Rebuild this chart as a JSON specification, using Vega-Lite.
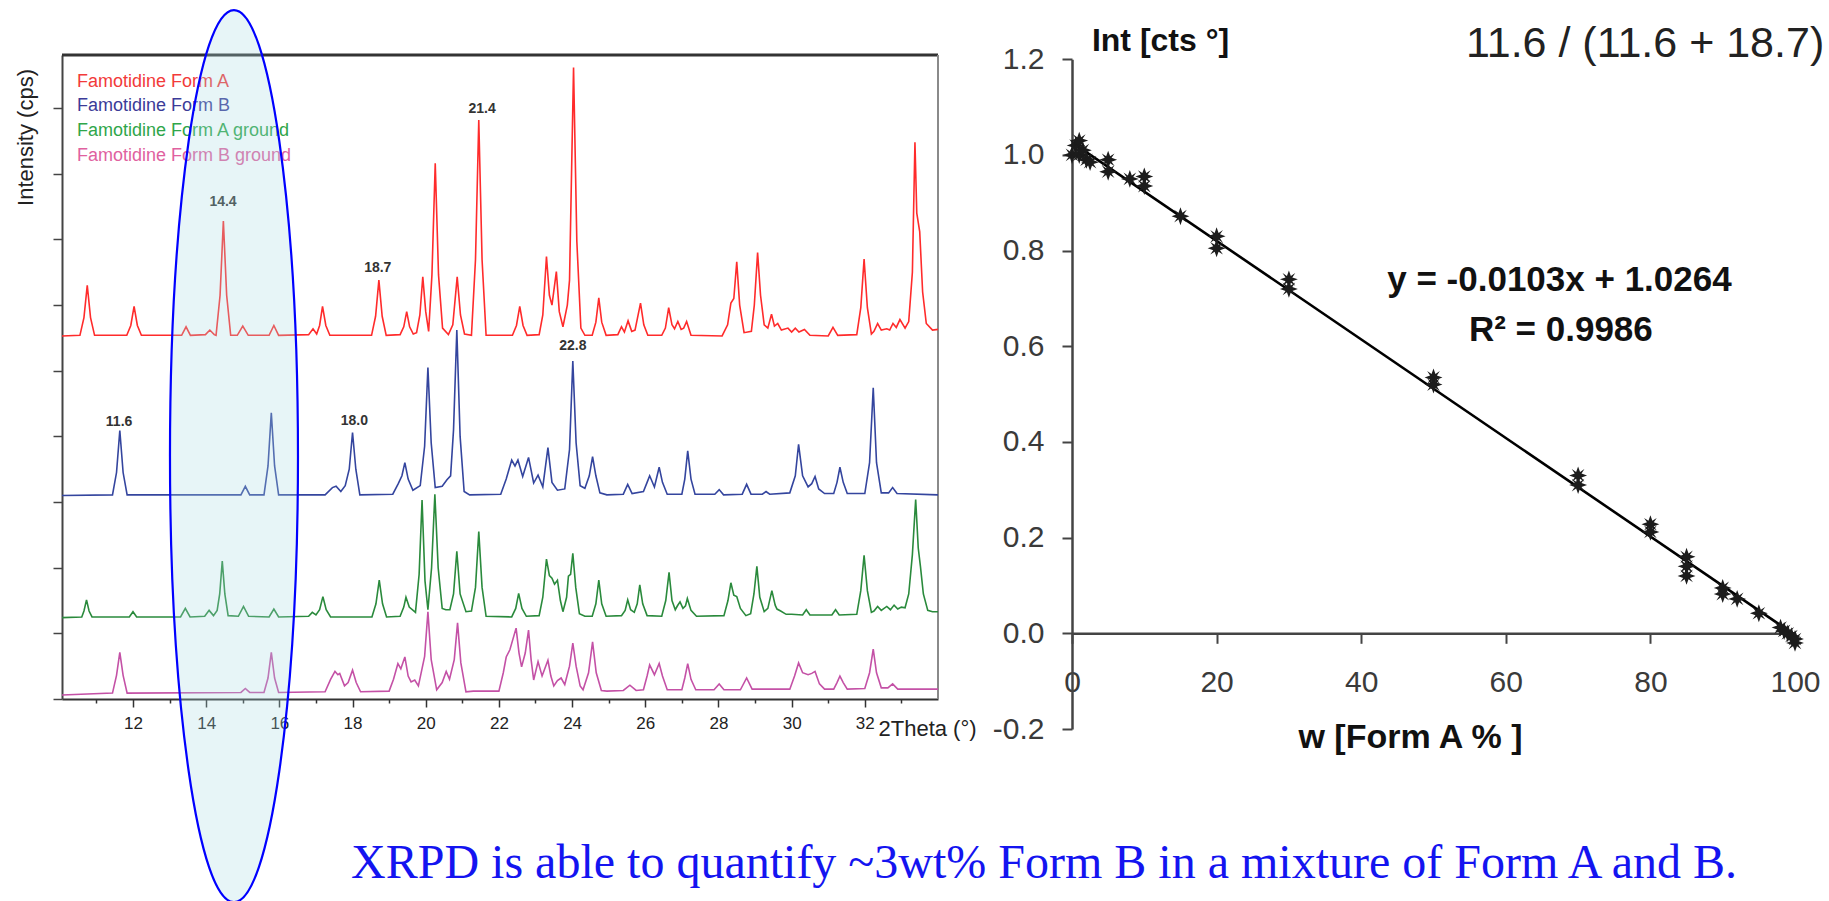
{
  "$schema": "https://vega.github.io/schema/vega-lite/v6.json",
  "width": 1829,
  "height": 901,
  "autosize": {"type": "none"},
  "padding": 0,
  "background": "white",
  "config": {"view": {"stroke": null}, "font": "Liberation Sans"},
  "datasets": {
    "formA": [
      {"theta":10.06,"cps":55.3},{"theta":10.55,"cps":55.4},{"theta":10.66,"cps":58.1},{"theta":10.75,"cps":63.0},{"theta":10.84,"cps":58.1},{"theta":10.95,"cps":55.4},
      {"theta":11.83,"cps":55.4},{"theta":11.94,"cps":56.9},{"theta":12.03,"cps":59.8},{"theta":12.12,"cps":56.9},{"theta":12.23,"cps":55.4},
      {"theta":13.33,"cps":55.4},{"theta":13.45,"cps":56.7},{"theta":13.57,"cps":55.4},
      {"theta":13.98,"cps":55.5},{"theta":14.1,"cps":56.2},{"theta":14.22,"cps":55.5},
      {"theta":14.27,"cps":55.4},{"theta":14.38,"cps":61.5},{"theta":14.47,"cps":72.8},{"theta":14.56,"cps":61.5},{"theta":14.67,"cps":55.4},
      {"theta":14.85,"cps":55.4},{"theta":15.0,"cps":56.8},{"theta":15.15,"cps":55.4},
      {"theta":15.72,"cps":55.4},{"theta":15.85,"cps":56.9},{"theta":15.98,"cps":55.4},
      {"theta":16.8,"cps":55.5},{"theta":16.92,"cps":56.4},{"theta":17.02,"cps":55.6},{"theta":17.1,"cps":56.9},{"theta":17.18,"cps":59.8},{"theta":17.27,"cps":56.9},{"theta":17.38,"cps":55.4},
      {"theta":18.52,"cps":55.4},{"theta":18.63,"cps":58.3},{"theta":18.72,"cps":63.8},{"theta":18.81,"cps":58.3},{"theta":18.92,"cps":55.4},
      {"theta":19.3,"cps":55.5},{"theta":19.4,"cps":56.7},{"theta":19.48,"cps":59.0},{"theta":19.56,"cps":56.7},{"theta":19.66,"cps":55.6},
      {"theta":19.75,"cps":55.8},{"theta":19.84,"cps":58.5},{"theta":19.92,"cps":64.3},{"theta":20.0,"cps":59.0},{"theta":20.08,"cps":56.0},
      {"theta":20.17,"cps":64.6},{"theta":20.26,"cps":81.6},{"theta":20.35,"cps":64.6},{"theta":20.46,"cps":56.5},{"theta":20.62,"cps":55.5},
      {"theta":20.74,"cps":57.0},{"theta":20.86,"cps":64.3},{"theta":20.95,"cps":58.5},{"theta":21.06,"cps":55.6},
      {"theta":21.25,"cps":55.4},{"theta":21.36,"cps":66.9},{"theta":21.45,"cps":88.2},{"theta":21.54,"cps":66.9},{"theta":21.65,"cps":55.4},
      {"theta":22.37,"cps":55.4},{"theta":22.48,"cps":56.9},{"theta":22.57,"cps":59.8},{"theta":22.66,"cps":56.9},{"theta":22.77,"cps":55.4},
      {"theta":23.1,"cps":55.5},{"theta":23.2,"cps":58.5},{"theta":23.3,"cps":67.4},{"theta":23.38,"cps":61.5},{"theta":23.45,"cps":60.0},{"theta":23.57,"cps":65.1},{"theta":23.65,"cps":59.0},{"theta":23.75,"cps":56.7},{"theta":23.87,"cps":60.0},{"theta":23.93,"cps":63.8},{"theta":24.04,"cps":96.2},{"theta":24.13,"cps":69.7},{"theta":24.24,"cps":56.5},{"theta":24.35,"cps":55.4},
      {"theta":24.55,"cps":55.4},{"theta":24.65,"cps":57.4},{"theta":24.73,"cps":61.1},{"theta":24.81,"cps":57.4},{"theta":24.93,"cps":55.4},
      {"theta":25.25,"cps":55.5},{"theta":25.35,"cps":56.7},{"theta":25.43,"cps":55.9},{"theta":25.53,"cps":57.6},{"theta":25.63,"cps":56.0},{"theta":25.72,"cps":56.2},{"theta":25.87,"cps":60.3},{"theta":25.96,"cps":57.0},{"theta":26.07,"cps":55.4},
      {"theta":26.45,"cps":55.4},{"theta":26.55,"cps":56.5},{"theta":26.64,"cps":59.6},{"theta":26.73,"cps":57.0},{"theta":26.8,"cps":56.4},{"theta":26.89,"cps":57.5},{"theta":26.98,"cps":56.3},{"theta":27.05,"cps":56.5},{"theta":27.13,"cps":57.5},{"theta":27.25,"cps":55.4},
      {"theta":28.1,"cps":55.3},{"theta":28.25,"cps":57.0},{"theta":28.34,"cps":60.3},{"theta":28.42,"cps":61.0},{"theta":28.5,"cps":66.6},{"theta":28.58,"cps":60.0},{"theta":28.7,"cps":55.8},
      {"theta":28.9,"cps":56.0},{"theta":28.98,"cps":60.0},{"theta":29.07,"cps":68.0},{"theta":29.15,"cps":61.5},{"theta":29.25,"cps":57.0},{"theta":29.35,"cps":56.5},{"theta":29.45,"cps":58.6},{"theta":29.53,"cps":56.8},{"theta":29.62,"cps":57.2},{"theta":29.72,"cps":56.2},
      {"theta":29.9,"cps":56.5},{"theta":30.0,"cps":55.9},{"theta":30.1,"cps":56.5},{"theta":30.2,"cps":55.9},{"theta":30.35,"cps":56.3},{"theta":30.5,"cps":55.4},
      {"theta":31.0,"cps":55.3},{"theta":31.13,"cps":56.6},{"theta":31.26,"cps":55.4},
      {"theta":31.78,"cps":55.5},{"theta":31.89,"cps":59.6},{"theta":31.98,"cps":67.0},{"theta":32.07,"cps":59.6},{"theta":32.18,"cps":55.6},{"theta":32.25,"cps":56.0},{"theta":32.35,"cps":57.2},{"theta":32.45,"cps":56.2},{"theta":32.6,"cps":56.4},{"theta":32.68,"cps":56.2},{"theta":32.77,"cps":57.2},{"theta":32.86,"cps":56.6},{"theta":32.96,"cps":57.8},
      {"theta":33.1,"cps":56.5},{"theta":33.2,"cps":57.5},{"theta":33.3,"cps":65.0},{"theta":33.37,"cps":84.8},{"theta":33.42,"cps":74.0},{"theta":33.5,"cps":71.2},{"theta":33.58,"cps":62.0},{"theta":33.68,"cps":57.2},{"theta":33.85,"cps":56.2},{"theta":34.0,"cps":56.3}
    ],
    "formB": [
      {"theta":10.06,"cps":31.0},{"theta":11.44,"cps":31.1},{"theta":11.55,"cps":34.5},{"theta":11.64,"cps":40.9},{"theta":11.73,"cps":34.5},{"theta":11.84,"cps":31.1},
      {"theta":14.95,"cps":31.1},{"theta":15.07,"cps":32.4},{"theta":15.19,"cps":31.1},
      {"theta":15.58,"cps":31.1},{"theta":15.69,"cps":35.5},{"theta":15.78,"cps":43.6},{"theta":15.87,"cps":35.5},{"theta":15.98,"cps":31.1},
      {"theta":17.25,"cps":31.1},{"theta":17.45,"cps":32.2},{"theta":17.55,"cps":32.4},{"theta":17.68,"cps":31.6},{"theta":17.8,"cps":32.5},{"theta":17.91,"cps":35.0},{"theta":18.0,"cps":40.6},{"theta":18.09,"cps":35.0},{"theta":18.2,"cps":31.1},
      {"theta":19.1,"cps":31.2},{"theta":19.25,"cps":32.8},{"theta":19.35,"cps":34.0},{"theta":19.43,"cps":36.0},{"theta":19.52,"cps":33.5},{"theta":19.65,"cps":31.8},{"theta":19.85,"cps":32.5},{"theta":19.97,"cps":38.5},{"theta":20.06,"cps":50.5},{"theta":20.15,"cps":39.0},{"theta":20.26,"cps":32.2},
      {"theta":20.45,"cps":32.4},{"theta":20.58,"cps":33.4},{"theta":20.68,"cps":34.0},{"theta":20.76,"cps":41.0},{"theta":20.85,"cps":56.2},{"theta":20.94,"cps":40.0},{"theta":21.05,"cps":31.6},{"theta":21.2,"cps":31.1},
      {"theta":22.05,"cps":31.2},{"theta":22.2,"cps":33.5},{"theta":22.35,"cps":36.4},{"theta":22.44,"cps":35.5},{"theta":22.52,"cps":36.4},{"theta":22.65,"cps":33.9},{"theta":22.81,"cps":36.8},{"theta":22.95,"cps":32.9},{"theta":23.07,"cps":34.1},{"theta":23.2,"cps":32.3},{"theta":23.34,"cps":38.3},{"theta":23.45,"cps":33.0},{"theta":23.6,"cps":31.8},
      {"theta":23.8,"cps":32.0},{"theta":23.93,"cps":38.0},{"theta":24.02,"cps":51.5},{"theta":24.11,"cps":39.0},{"theta":24.22,"cps":32.5},{"theta":24.35,"cps":32.1},{"theta":24.47,"cps":34.0},{"theta":24.56,"cps":36.9},{"theta":24.65,"cps":34.0},{"theta":24.76,"cps":31.4},{"theta":24.95,"cps":31.1},
      {"theta":25.4,"cps":31.2},{"theta":25.52,"cps":32.7},{"theta":25.64,"cps":31.3},{"theta":25.95,"cps":31.6},{"theta":26.05,"cps":33.0},{"theta":26.12,"cps":34.0},{"theta":26.25,"cps":32.3},{"theta":26.38,"cps":35.3},{"theta":26.47,"cps":33.0},{"theta":26.6,"cps":31.2},
      {"theta":27.0,"cps":31.2},{"theta":27.08,"cps":33.5},{"theta":27.16,"cps":37.8},{"theta":27.25,"cps":33.5},{"theta":27.36,"cps":31.2},
      {"theta":27.9,"cps":31.2},{"theta":28.02,"cps":31.9},{"theta":28.14,"cps":31.1},
      {"theta":28.65,"cps":31.2},{"theta":28.77,"cps":32.7},{"theta":28.89,"cps":31.2},
      {"theta":29.2,"cps":31.2},{"theta":29.3,"cps":31.6},{"theta":29.4,"cps":31.2},
      {"theta":29.95,"cps":31.4},{"theta":30.1,"cps":34.0},{"theta":30.19,"cps":38.8},{"theta":30.3,"cps":34.0},{"theta":30.45,"cps":32.3},{"theta":30.55,"cps":32.8},{"theta":30.64,"cps":33.9},{"theta":30.74,"cps":32.0},{"theta":30.9,"cps":31.3},
      {"theta":31.15,"cps":31.3},{"theta":31.24,"cps":33.0},{"theta":31.32,"cps":35.3},{"theta":31.41,"cps":33.0},{"theta":31.52,"cps":31.3},
      {"theta":32.0,"cps":31.3},{"theta":32.13,"cps":36.0},{"theta":32.23,"cps":47.4},{"theta":32.32,"cps":36.0},{"theta":32.45,"cps":31.4},{"theta":32.65,"cps":31.4},{"theta":32.76,"cps":32.2},{"theta":32.88,"cps":31.3},{"theta":34.0,"cps":31.1}
    ],
    "formAground": [
      {"theta":10.06,"cps":12.4},{"theta":10.6,"cps":12.5},{"theta":10.66,"cps":13.4},{"theta":10.73,"cps":15.1},{"theta":10.8,"cps":13.4},{"theta":10.88,"cps":12.5},
      {"theta":11.9,"cps":12.5},{"theta":12.0,"cps":13.3},{"theta":12.1,"cps":12.5},
      {"theta":13.3,"cps":12.5},{"theta":13.43,"cps":13.8},{"theta":13.56,"cps":12.5},
      {"theta":13.96,"cps":12.6},{"theta":14.08,"cps":13.5},{"theta":14.2,"cps":12.7},{"theta":14.3,"cps":13.5},{"theta":14.37,"cps":16.0},{"theta":14.44,"cps":21.0},{"theta":14.51,"cps":16.0},{"theta":14.6,"cps":12.7},
      {"theta":14.88,"cps":12.6},{"theta":15.02,"cps":14.1},{"theta":15.16,"cps":12.6},
      {"theta":15.72,"cps":12.5},{"theta":15.85,"cps":13.7},{"theta":15.98,"cps":12.5},
      {"theta":16.8,"cps":12.6},{"theta":16.9,"cps":13.2},{"theta":17.0,"cps":12.8},{"theta":17.1,"cps":13.6},{"theta":17.19,"cps":15.6},{"theta":17.28,"cps":13.6},{"theta":17.4,"cps":12.5},
      {"theta":18.53,"cps":12.5},{"theta":18.64,"cps":14.5},{"theta":18.73,"cps":18.1},{"theta":18.82,"cps":14.5},{"theta":18.93,"cps":12.5},
      {"theta":19.3,"cps":12.6},{"theta":19.4,"cps":14.0},{"theta":19.46,"cps":15.5},{"theta":19.55,"cps":14.0},{"theta":19.72,"cps":13.2},{"theta":19.82,"cps":19.0},{"theta":19.9,"cps":30.3},{"theta":19.98,"cps":18.0},{"theta":20.06,"cps":13.6},{"theta":20.16,"cps":20.0},{"theta":20.25,"cps":31.2},{"theta":20.34,"cps":20.0},{"theta":20.45,"cps":13.8},
      {"theta":20.55,"cps":13.6},{"theta":20.66,"cps":13.6},{"theta":20.76,"cps":16.0},{"theta":20.85,"cps":22.5},{"theta":20.94,"cps":16.0},{"theta":21.1,"cps":13.3},{"theta":21.25,"cps":13.4},{"theta":21.36,"cps":17.0},{"theta":21.45,"cps":25.5},{"theta":21.54,"cps":17.0},{"theta":21.65,"cps":12.6},
      {"theta":22.35,"cps":12.5},{"theta":22.46,"cps":13.8},{"theta":22.54,"cps":16.1},{"theta":22.63,"cps":13.8},{"theta":22.75,"cps":12.6},
      {"theta":23.1,"cps":12.7},{"theta":23.2,"cps":15.5},{"theta":23.3,"cps":21.3},{"theta":23.38,"cps":18.8},{"theta":23.45,"cps":18.4},{"theta":23.52,"cps":17.5},{"theta":23.6,"cps":18.1},{"theta":23.68,"cps":15.0},{"theta":23.75,"cps":13.3},{"theta":23.85,"cps":15.5},{"theta":23.9,"cps":18.7},{"theta":23.96,"cps":19.0},{"theta":24.02,"cps":22.2},{"theta":24.1,"cps":17.0},{"theta":24.2,"cps":13.0},{"theta":24.35,"cps":12.6},
      {"theta":24.55,"cps":12.6},{"theta":24.65,"cps":14.5},{"theta":24.73,"cps":18.1},{"theta":24.81,"cps":14.5},{"theta":24.93,"cps":12.6},
      {"theta":25.35,"cps":12.7},{"theta":25.45,"cps":13.5},{"theta":25.52,"cps":15.1},{"theta":25.6,"cps":13.6},{"theta":25.7,"cps":13.2},{"theta":25.78,"cps":14.5},{"theta":25.85,"cps":17.4},{"theta":25.93,"cps":14.5},{"theta":26.05,"cps":12.7},
      {"theta":26.45,"cps":12.6},{"theta":26.56,"cps":15.0},{"theta":26.65,"cps":19.3},{"theta":26.73,"cps":15.0},{"theta":26.82,"cps":13.6},{"theta":26.88,"cps":14.2},{"theta":26.95,"cps":14.8},{"theta":27.03,"cps":13.8},{"theta":27.1,"cps":14.2},{"theta":27.15,"cps":15.3},{"theta":27.25,"cps":13.5},{"theta":27.4,"cps":12.6},
      {"theta":28.15,"cps":12.7},{"theta":28.26,"cps":15.0},{"theta":28.34,"cps":17.7},{"theta":28.42,"cps":15.8},{"theta":28.5,"cps":15.6},{"theta":28.6,"cps":13.8},{"theta":28.75,"cps":12.7},
      {"theta":28.88,"cps":13.0},{"theta":28.97,"cps":16.0},{"theta":29.05,"cps":20.2},{"theta":29.13,"cps":15.5},{"theta":29.25,"cps":13.3},{"theta":29.35,"cps":13.8},{"theta":29.46,"cps":16.5},{"theta":29.55,"cps":14.3},{"theta":29.6,"cps":13.7},{"theta":29.7,"cps":13.4},{"theta":29.85,"cps":12.9},{"theta":30.0,"cps":12.9},
      {"theta":30.3,"cps":12.8},{"theta":30.4,"cps":13.6},{"theta":30.5,"cps":12.8},
      {"theta":31.1,"cps":12.8},{"theta":31.2,"cps":13.6},{"theta":31.3,"cps":12.8},
      {"theta":31.78,"cps":12.9},{"theta":31.89,"cps":16.5},{"theta":31.98,"cps":21.9},{"theta":32.07,"cps":16.5},{"theta":32.18,"cps":13.2},{"theta":32.25,"cps":13.4},{"theta":32.35,"cps":14.1},{"theta":32.45,"cps":13.5},{"theta":32.6,"cps":14.1},{"theta":32.7,"cps":13.6},{"theta":32.8,"cps":14.3},{"theta":32.9,"cps":13.7},{"theta":33.0,"cps":14.0},
      {"theta":33.1,"cps":13.9},{"theta":33.2,"cps":16.0},{"theta":33.3,"cps":22.0},{"theta":33.39,"cps":30.4},{"theta":33.46,"cps":23.0},{"theta":33.52,"cps":20.2},{"theta":33.6,"cps":16.0},{"theta":33.72,"cps":13.5},{"theta":33.85,"cps":13.3},{"theta":34.0,"cps":13.3}
    ],
    "formBground": [
      {"theta":10.06,"cps":0.6},{"theta":11.44,"cps":0.9},{"theta":11.55,"cps":3.6},{"theta":11.64,"cps":7.1},{"theta":11.73,"cps":3.6},{"theta":11.84,"cps":0.9},
      {"theta":14.95,"cps":1.0},{"theta":15.07,"cps":1.6},{"theta":15.19,"cps":1.0},
      {"theta":15.58,"cps":1.0},{"theta":15.69,"cps":3.2},{"theta":15.78,"cps":7.1},{"theta":15.87,"cps":3.2},{"theta":15.98,"cps":1.0},
      {"theta":17.25,"cps":1.1},{"theta":17.4,"cps":3.0},{"theta":17.52,"cps":4.2},{"theta":17.6,"cps":3.7},{"theta":17.65,"cps":3.9},{"theta":17.78,"cps":2.0},{"theta":17.88,"cps":2.5},{"theta":18.0,"cps":4.4},{"theta":18.1,"cps":2.5},{"theta":18.22,"cps":1.1},
      {"theta":19.0,"cps":1.2},{"theta":19.12,"cps":3.0},{"theta":19.24,"cps":5.4},{"theta":19.32,"cps":4.6},{"theta":19.43,"cps":6.4},{"theta":19.52,"cps":3.5},{"theta":19.6,"cps":2.6},{"theta":19.7,"cps":2.9},{"theta":19.8,"cps":2.0},{"theta":19.97,"cps":6.5},{"theta":20.06,"cps":13.3},{"theta":20.15,"cps":6.0},{"theta":20.3,"cps":1.4},
      {"theta":20.45,"cps":2.5},{"theta":20.56,"cps":4.2},{"theta":20.65,"cps":3.0},{"theta":20.78,"cps":6.0},{"theta":20.87,"cps":11.6},{"theta":20.96,"cps":5.5},{"theta":21.1,"cps":1.1},{"theta":21.3,"cps":1.2},
      {"theta":22.0,"cps":1.2},{"theta":22.12,"cps":4.0},{"theta":22.2,"cps":6.4},{"theta":22.3,"cps":7.5},{"theta":22.47,"cps":10.8},{"theta":22.55,"cps":7.0},{"theta":22.62,"cps":4.9},{"theta":22.72,"cps":7.0},{"theta":22.81,"cps":10.5},{"theta":22.88,"cps":6.0},{"theta":22.95,"cps":2.9},{"theta":23.07,"cps":5.7},{"theta":23.18,"cps":3.5},{"theta":23.34,"cps":5.9},{"theta":23.42,"cps":3.5},{"theta":23.5,"cps":2.0},{"theta":23.6,"cps":2.8},{"theta":23.7,"cps":3.2},{"theta":23.8,"cps":2.2},
      {"theta":23.93,"cps":5.0},{"theta":24.02,"cps":8.5},{"theta":24.11,"cps":5.0},{"theta":24.22,"cps":2.0},{"theta":24.3,"cps":1.4},{"theta":24.45,"cps":4.0},{"theta":24.56,"cps":8.7},{"theta":24.66,"cps":4.0},{"theta":24.8,"cps":1.3},{"theta":24.95,"cps":1.2},
      {"theta":25.4,"cps":1.3},{"theta":25.58,"cps":2.1},{"theta":25.75,"cps":1.3},
      {"theta":25.95,"cps":1.4},{"theta":26.05,"cps":3.5},{"theta":26.12,"cps":5.2},{"theta":26.25,"cps":3.7},{"theta":26.38,"cps":5.4},{"theta":26.47,"cps":3.5},{"theta":26.6,"cps":1.4},
      {"theta":27.0,"cps":1.4},{"theta":27.08,"cps":3.2},{"theta":27.16,"cps":5.4},{"theta":27.25,"cps":3.0},{"theta":27.38,"cps":1.4},
      {"theta":27.88,"cps":1.4},{"theta":28.02,"cps":2.3},{"theta":28.15,"cps":1.4},
      {"theta":28.6,"cps":1.4},{"theta":28.77,"cps":3.2},{"theta":28.92,"cps":1.5},
      {"theta":29.95,"cps":1.5},{"theta":30.08,"cps":3.5},{"theta":30.19,"cps":5.5},{"theta":30.3,"cps":4.0},{"theta":30.45,"cps":3.7},{"theta":30.55,"cps":3.9},{"theta":30.64,"cps":4.2},{"theta":30.76,"cps":2.3},{"theta":30.9,"cps":1.5},
      {"theta":31.15,"cps":1.5},{"theta":31.24,"cps":2.5},{"theta":31.32,"cps":3.5},{"theta":31.41,"cps":2.5},{"theta":31.52,"cps":1.5},
      {"theta":32.0,"cps":1.6},{"theta":32.13,"cps":4.0},{"theta":32.23,"cps":7.6},{"theta":32.32,"cps":4.0},{"theta":32.45,"cps":1.7},{"theta":32.63,"cps":1.7},{"theta":32.76,"cps":2.3},{"theta":32.9,"cps":1.5},{"theta":34.0,"cps":1.5}
    ],
    "peakLabels": [
      {"theta":14.46,"cps":75.7,"label":"14.4"},
      {"theta":18.69,"cps":65.7,"label":"18.7"},
      {"theta":21.54,"cps":89.9,"label":"21.4"},
      {"theta":24.02,"cps":53.8,"label":"22.8"},
      {"theta":11.62,"cps":42.2,"label":"11.6"},
      {"theta":18.05,"cps":42.3,"label":"18.0"}
    ],
    "legendRows": [
      {"theta":10.47,"cps":94.0,"label":"Famotidine Form A"},
      {"theta":10.47,"cps":90.3,"label":"Famotidine Form B"},
      {"theta":10.47,"cps":86.5,"label":"Famotidine Form A ground"},
      {"theta":10.47,"cps":82.7,"label":"Famotidine Form B ground"}
    ],
    "calibration": [
      {"w":0,"r":1.0},{"w":0.5,"r":1.02},{"w":1,"r":1.03},{"w":1,"r":1.0},{"w":1.5,"r":1.01},{"w":2,"r":0.99},{"w":2.5,"r":0.985},
      {"w":5,"r":0.99},{"w":5,"r":0.965},
      {"w":8,"r":0.95},
      {"w":10,"r":0.955},{"w":10,"r":0.935},
      {"w":15,"r":0.872},
      {"w":20,"r":0.83},{"w":20,"r":0.805},
      {"w":30,"r":0.74},{"w":30,"r":0.72},
      {"w":50,"r":0.535},{"w":50,"r":0.52},
      {"w":70,"r":0.33},{"w":70,"r":0.31},
      {"w":80,"r":0.228},{"w":80,"r":0.212},
      {"w":85,"r":0.16},{"w":85,"r":0.14},{"w":85,"r":0.12},
      {"w":90,"r":0.095},{"w":90,"r":0.082},
      {"w":92,"r":0.072},
      {"w":95,"r":0.042},
      {"w":98,"r":0.012},{"w":98.5,"r":0.005},{"w":99,"r":0.0},{"w":99.5,"r":-0.006},{"w":100,"r":-0.012},{"w":100,"r":-0.02}
    ]
  },
  "layer": [
    {
      "encoding": {
        "x": {
          "field": "theta",
          "type": "quantitative",
          "scale": {"domain": [10.06, 34], "range": [62, 938], "nice": false, "zero": false},
          "axis": {
            "orient": "bottom",
            "offset": -202,
            "values": [11, 12, 13, 14, 15, 16, 17, 18, 19, 20, 21, 22, 23, 24, 25, 26, 27, 28, 29, 30, 31, 32, 33],
            "labelExpr": "datum.value % 2 === 0 ? datum.label : ''",
            "tickSize": {"condition": {"test": "datum.value % 2 === 0", "value": 8}, "value": 4},
            "tickColor": "#333",
            "tickWidth": 1.5,
            "domainColor": "#333",
            "domainWidth": 2,
            "grid": false,
            "labelFontSize": 17,
            "labelColor": "#222",
            "labelPadding": 8,
            "labelFlush": false,
            "labelOverlap": false,
            "title": "2Theta (°)",
            "titleX": 878,
            "titleY": 29,
            "titleAlign": "left",
            "titleBaseline": "middle",
            "titleFontSize": 22,
            "titleFontWeight": "normal",
            "titleColor": "#222"
          }
        },
        "y": {
          "field": "cps",
          "type": "quantitative",
          "scale": {"domain": [0, 98.1], "range": [699, 55], "nice": false, "zero": false},
          "axis": {
            "orient": "left",
            "offset": -62,
            "values": [0, 10, 20, 30, 40, 50, 60, 70, 80, 90],
            "labels": false,
            "tickSize": 9,
            "tickColor": "#444",
            "tickWidth": 1.5,
            "domainColor": "#444",
            "domainWidth": 2,
            "grid": false,
            "title": "Intensity (cps)",
            "titleX": -37,
            "titleY": 137,
            "titleAngle": -90,
            "titleAlign": "center",
            "titleBaseline": "middle",
            "titleFontSize": 22,
            "titleFontWeight": "normal",
            "titleColor": "#222"
          }
        }
      },
      "layer": [
        {
          "data": {"values": [{"theta": 10.06, "theta2": 34, "cps": 98.1}]},
          "mark": {"type": "rule", "color": "#333", "strokeWidth": 3},
          "encoding": {"x2": {"field": "theta2"}}
        },
        {
          "data": {"values": [{"theta": 34, "cps": 0, "cps2": 98.1}]},
          "mark": {"type": "rule", "color": "#8a8a8a", "strokeWidth": 2},
          "encoding": {"y2": {"field": "cps2"}}
        },
        {
          "data": {"name": "formBground"},
          "mark": {"type": "line", "color": "#c451a6", "strokeWidth": 1.6}
        },
        {
          "data": {"name": "formAground"},
          "mark": {"type": "line", "color": "#2a8a3c", "strokeWidth": 1.6}
        },
        {
          "data": {"name": "formB"},
          "mark": {"type": "line", "color": "#34459e", "strokeWidth": 1.6}
        },
        {
          "data": {"name": "formA"},
          "mark": {"type": "line", "color": "#ff2b2b", "strokeWidth": 1.6}
        },
        {
          "data": {"name": "peakLabels"},
          "mark": {"type": "text", "fontSize": 14, "fontWeight": "bold", "color": "#333", "align": "center", "baseline": "middle"},
          "encoding": {"text": {"field": "label"}}
        },
        {
          "data": {"name": "legendRows"},
          "mark": {"type": "text", "fontSize": 18, "align": "left", "baseline": "middle"},
          "encoding": {
            "text": {"field": "label"},
            "color": {
              "field": "label",
              "type": "nominal",
              "scale": {
                "domain": ["Famotidine Form A", "Famotidine Form B", "Famotidine Form A ground", "Famotidine Form B ground"],
                "range": ["#f23a3a", "#3b3b98", "#2fa64a", "#e0619f"]
              },
              "legend": null
            }
          }
        },
        {
          "data": {"values": [{"theta": 14.76, "cps": 37.0, "region": "Form B reflections 13.3-16.2"}]},
          "mark": {
            "type": "point",
            "shape": "M0,-1C0.0793,-1 0.1435,-0.5523 0.1435,0C0.1435,0.5523 0.0793,1 0,1C-0.0793,1 -0.1435,0.5523 -0.1435,0C-0.1435,-0.5523 -0.0793,-1 0,-1Z",
            "size": 795664,
            "filled": true,
            "fill": "#a8dbe3",
            "opacity": 0.28,
            "strokeWidth": 0
          }
        },
        {
          "data": {"values": [{"theta": 14.76, "cps": 37.0, "region": "Form B reflections 13.3-16.2"}]},
          "mark": {
            "type": "point",
            "shape": "M0,-1C0.0793,-1 0.1435,-0.5523 0.1435,0C0.1435,0.5523 0.0793,1 0,1C-0.0793,1 -0.1435,0.5523 -0.1435,0C-0.1435,-0.5523 -0.0793,-1 0,-1Z",
            "size": 795664,
            "filled": false,
            "stroke": "#0000ff",
            "strokeWidth": 2.2,
            "opacity": 1
          }
        }
      ]
    },
    {
      "encoding": {
        "x": {
          "field": "w",
          "type": "quantitative",
          "scale": {"domain": [0, 100], "range": [1072, 1795], "nice": false, "zero": false},
          "axis": {
            "orient": "bottom",
            "offset": -267.7,
            "values": [0, 20, 40, 60, 80, 100],
            "format": "d",
            "tickSize": 10,
            "tickColor": "#444",
            "tickWidth": 2,
            "domainColor": "#444",
            "domainWidth": 2.5,
            "grid": false,
            "labelFontSize": 30,
            "labelColor": "#3a3a3a",
            "labelBaseline": "middle",
            "labelPadding": 39,
            "labelFlush": false,
            "labelOverlap": false,
            "title": "w [Form A % ]",
            "titleX": 1410,
            "titleY": 104,
            "titleAlign": "center",
            "titleBaseline": "middle",
            "titleFontSize": 34,
            "titleFontWeight": "bold",
            "titleColor": "#111"
          }
        },
        "y": {
          "field": "r",
          "type": "quantitative",
          "scale": {"domain": [-0.2, 1.2], "range": [729, 59.3], "nice": false, "zero": false},
          "axis": {
            "orient": "left",
            "offset": -1072,
            "values": [-0.2, 0, 0.2, 0.4, 0.6, 0.8, 1, 1.2],
            "labelExpr": "replace(format(datum.value, '.1f'), '\u2212', '-')",
            "tickSize": 10,
            "tickColor": "#444",
            "tickWidth": 2,
            "domainColor": "#444",
            "domainWidth": 2.5,
            "grid": false,
            "labelFontSize": 30,
            "labelColor": "#3a3a3a",
            "labelPadding": 18,
            "labelFlush": false,
            "labelOverlap": false,
            "title": "Int [cts °]",
            "titleX": 88,
            "titleY": 40,
            "titleAngle": 0,
            "titleAlign": "center",
            "titleBaseline": "middle",
            "titleFontSize": 32,
            "titleFontWeight": "bold",
            "titleColor": "#111"
          }
        }
      },
      "layer": [
        {
          "data": {"values": [{"w": 0, "r": 1.0264}, {"w": 100, "r": -0.0036}]},
          "mark": {"type": "line", "color": "#000", "strokeWidth": 2.6}
        },
        {
          "data": {"name": "calibration"},
          "mark": {
            "type": "point",
            "shape": "M0,-1L0.22,-0.38L0.71,-0.71L0.38,-0.22L1,0L0.38,0.22L0.71,0.71L0.22,0.38L0,1L-0.22,0.38L-0.71,0.71L-0.38,0.22L-1,0L-0.38,-0.22L-0.71,-0.71L-0.22,-0.38Z",
            "size": 320,
            "filled": true,
            "color": "#1c1c1c",
            "opacity": 1
          }
        },
        {
          "data": {"values": [{"w": 43.6, "r": 0.739, "label": "y = -0.0103x + 1.0264"}, {"w": 54.9, "r": 0.634, "label": "R² = 0.9986"}]},
          "mark": {"type": "text", "fontSize": 35, "fontWeight": "bold", "color": "#111", "align": "left", "baseline": "middle"},
          "encoding": {"text": {"field": "label"}}
        },
        {
          "data": {"values": [{"w": 54.5, "r": 1.232, "label": "11.6 / (11.6 + 18.7)"}]},
          "mark": {"type": "text", "fontSize": 43, "color": "#222", "align": "left", "baseline": "middle"},
          "encoding": {"text": {"field": "label"}}
        },
        {
          "data": {"values": [{"w": -3.87, "r": -0.512, "label": "XRPD is able to quantify ~3wt% Form B in a mixture of Form A and B."}]},
          "mark": {"type": "text", "font": "Liberation Serif", "fontSize": 48, "color": "#1414f0", "align": "center", "baseline": "alphabetic"},
          "encoding": {"text": {"field": "label"}}
        }
      ]
    }
  ],
  "resolve": {"scale": {"x": "independent", "y": "independent", "color": "independent"}}
}
